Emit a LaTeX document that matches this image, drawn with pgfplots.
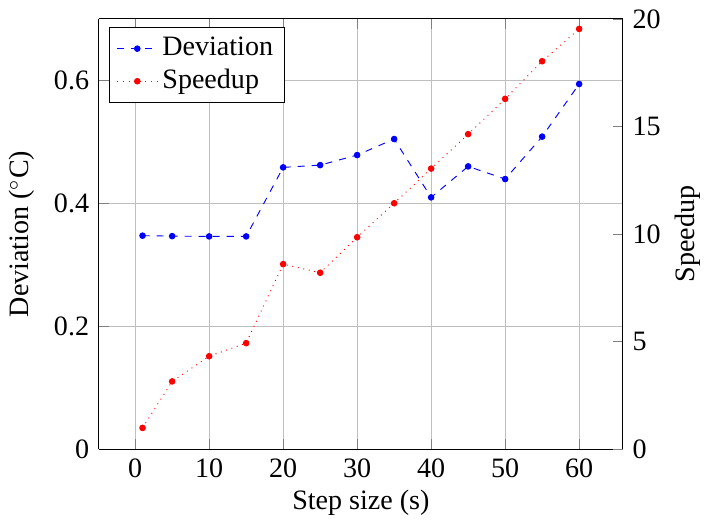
\documentclass[border=0pt,12pt]{standalone}
\usepackage{fontspec}
\setmainfont{Liberation Serif}
\usepackage{pgfplots}
\pgfplotsset{compat=1.18}

\begin{document}
\begin{tikzpicture}
    \begin{axis}[
        scale only axis,
        width=224pt, height=184pt,
        /pgf/number format/assume math mode=true,
        xlabel = {Step size (s)},
        xlabel style = {yshift=3pt},
        ylabel = {Deviation ($^\circ$C)},
        ymin = 0, ymax = 0.7,
        ytick = {0, 0.2, 0.4, 0.6},
        axis y line* = left,
        grid = major,
    ]
    \addplot[color=blue, dashed, mark=*, mark size=1.2pt, mark options={solid}]
        coordinates {(1,0.3473)(5,0.3466)(10,0.3461)(15,0.3461)(20,0.4584)(25,0.4621)
        (30,0.4784)(35,0.5045)(40,0.4096)(45,0.4600)(50,0.4394)(55,0.5084)(60,0.594)};
    \end{axis}
    \begin{axis}[
        scale only axis,
        width=224pt, height=184pt,
        /pgf/number format/assume math mode=true,
        axis x line = none,
        axis y line* = right,
        ylabel = {Speedup},
        ylabel style = {yshift=2pt},
        ymin = 0, ymax = 20,
        ytick = {0, 5, 10, 15, 20},
        legend style = {at={(0.02,0.98)}, anchor=north west},
        legend cell align = left,
    ]
    \addlegendimage{color=blue, dashed, mark=*, mark size=1.2pt, mark options={solid}}
    \addlegendentry{Deviation}
    \addplot[color=red, dotted, mark=*, mark size=1.2pt, mark options={solid}]
        coordinates {(1,0.99)(5,3.15)(10,4.32)(15,4.93)(20,8.60)(25,8.20)(30,9.85)
        (35,11.43)(40,13.04)(45,14.64)(50,16.28)(55,18.03)(60,19.53)};
    \addlegendentry{Speedup}
    \end{axis}
\end{tikzpicture}
\end{document}
